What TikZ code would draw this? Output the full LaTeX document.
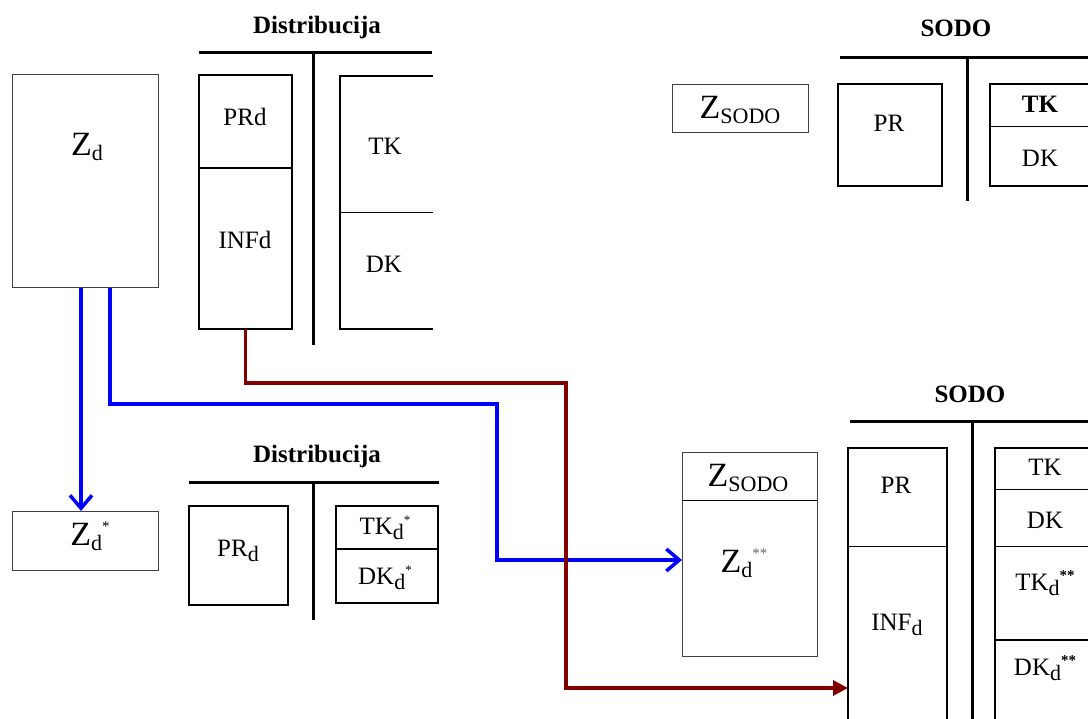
\documentclass[tikz,border=0pt]{standalone}
\usepackage{fontspec}
\setmainfont{Liberation Serif}
\usetikzlibrary{arrows.meta}
\definecolor{darkred}{RGB}{128,0,0}
\definecolor{pureblue}{RGB}{0,0,255}
\newcommand{\fs}[1]{\fontsize{#1}{#1}\selectfont}
\newcommand{\Zbig}{{\fs{34}Z}}
\newcommand{\lowsub}[1]{\raisebox{-5pt}{\fs{22}#1}}
\newcommand{\highsup}[1]{\raisebox{14pt}{\fs{15}#1}}
\begin{document}
\begin{tikzpicture}[x=1pt,y=-1pt,
  thinbox/.style={draw=black!75,line width=1pt,minimum width=#1,anchor=north west,inner sep=0pt,outer sep=0pt},
  accbox/.style={draw=black,line width=2.2pt,anchor=north west,inner sep=0pt,outer sep=0pt},
  tline/.style={line width=3pt},
  divthin/.style={line width=1pt},
  divthick/.style={line width=2pt},
  title/.style={font=\bfseries\fs{25}},
  lbl/.style={font=\fs{25},inner sep=0pt},
  bluearr/.style={draw=pureblue,line width=3.5pt,-{Straight Barb[length=13pt,width=22pt,line width=3.5pt]}},
  redarr/.style={draw=darkred,line width=3.5pt,-{Triangle[length=15pt,width=15pt]}}
]
\clip (0,0) rectangle (1088,719);
\fill[white] (0,0) rectangle (1088,719);

% ---------- top left: Zd ----------
\node[thinbox=146pt,minimum height=213pt] (zd) at (12,75) {};
\node[inner sep=0pt] (zdt) at (87,147) {\Zbig\lowsub{d}};

% ---------- top Distribucija ----------
\node[title] (dist1) at (317,27) {Distribucija};
\draw[tline] (199,53) -- (432,53);
\draw[tline] (313,53) -- (313,345);
\node[accbox,minimum width=93pt,minimum height=254pt] (prinf) at (199,75) {};
\draw[divthick] (199,168) -- (292,168);
\node[lbl] (prd) at (245,117) {PRd};
\node[lbl] (infd) at (245,240) {INFd};
\draw[line width=2.2pt] (433,76) -- (340,76) -- (340,329) -- (433,329);
\draw[divthin] (340,213) -- (433,213);
\node[lbl] (tk1) at (385,146) {TK};
\node[lbl] (dk1) at (384,264) {DK};

% ---------- top SODO ----------
\node[title] (sodo1) at (956,28) {SODO};
\draw[tline] (840,58) -- (1090,58);
\draw[tline] (967,58) -- (967,201);
\node[thinbox=136pt,minimum height=48pt] (zsodo1) at (672,85) {};
\node[inner sep=0pt] (zsodo1t) at (740,110) {\Zbig\lowsub{SODO}};
\node[accbox,minimum width=104pt,minimum height=102pt] (pr1) at (838,84) {};
\node[lbl] (pr1t) at (889,123) {PR};
\node[accbox,minimum width=110pt,minimum height=102pt] (tkdk1) at (990,84) {};
\draw[divthin] (990,127) -- (1090,127);
\node[lbl,font=\bfseries\fs{25}] (tk2) at (1040,104) {TK};
\node[lbl] (dk2) at (1040,158) {DK};

% ---------- bottom left: Zd* ----------
\node[thinbox=146pt,minimum height=59pt] (zdstar) at (12,511) {};
\node[inner sep=0pt] (zdstart) at (90,536) {\Zbig\lowsub{d}\highsup{*}};

% ---------- bottom Distribucija ----------
\node[title] (dist2) at (317,456) {Distribucija};
\draw[tline] (189,482) -- (439,482);
\draw[tline] (313,482) -- (313,620);
\node[accbox,minimum width=99pt,minimum height=99pt] (prd2) at (189,506) {};
\node[lbl] (prd2t) at (238,551) {PR\lowsub{d}};
\node[accbox,minimum width=102pt,minimum height=97pt] (tkdk2) at (336,506) {};
\draw[divthick] (336,549) -- (438,549);
\node[lbl] (tkd2) at (385,528) {TK\lowsub{d}\raisebox{10pt}{\fs{13}*}};
\node[lbl] (dkd2) at (385,578) {DK\lowsub{d}\raisebox{10pt}{\fs{13}*}};

% ---------- Zsodo / Zd** ----------
\node[thinbox=135pt,minimum height=203pt] (zdd) at (682,453) {};
\draw[divthin] (682,500) -- (817,500);
\node[inner sep=0pt] (zsodo2t) at (748,478) {\Zbig\lowsub{SODO}};
\node[inner sep=0pt] (zddt) at (744,563) {\Zbig\lowsub{d}\highsup{\color{black!60}**}};

% ---------- bottom SODO ----------
\node[title] (sodo2) at (970,394) {SODO};
\draw[tline] (850,422) -- (1090,422);
\draw[tline] (972,422) -- (972,722);
\node[accbox,minimum width=99pt,minimum height=280pt] (prinf2) at (848,448) {};
\draw[divthin] (848,546) -- (947,546);
\node[lbl] (pr3) at (896,485) {PR};
\node[lbl] (inf3) at (897,625) {INF\lowsub{d}};
\node[accbox,minimum width=100pt,minimum height=280pt] (tk3box) at (995,448) {};
\draw[divthin] (995,489) -- (1090,489);
\draw[divthin] (995,546) -- (1090,546);
\draw[divthick] (995,640) -- (1090,640);
\node[lbl] (tk3) at (1045,467) {TK};
\node[lbl] (dk3) at (1045,520) {DK};
\node[lbl] (tkd3) at (1045,583) {TK\lowsub{d}\raisebox{10pt}{\bfseries\fs{15}**}};
\node[lbl] (dkd3) at (1045,668) {DK\lowsub{d}\raisebox{10pt}{\bfseries\fs{15}**}};

% ---------- connectors ----------
\coordinate (b1) at (497,404);
\coordinate (r1) at (566,383);
\draw[bluearr] ([xshift=-4pt]zd.south) -- ([xshift=-4pt]zdstar.north);
\draw[bluearr] ([xshift=25pt]zd.south) |- (b1) |- ([yshift=-5.5pt]zdd.west);
\draw[redarr] (prinf.south) |- (r1) |- ([yshift=-100pt]prinf2.west);
\end{tikzpicture}
\end{document}
